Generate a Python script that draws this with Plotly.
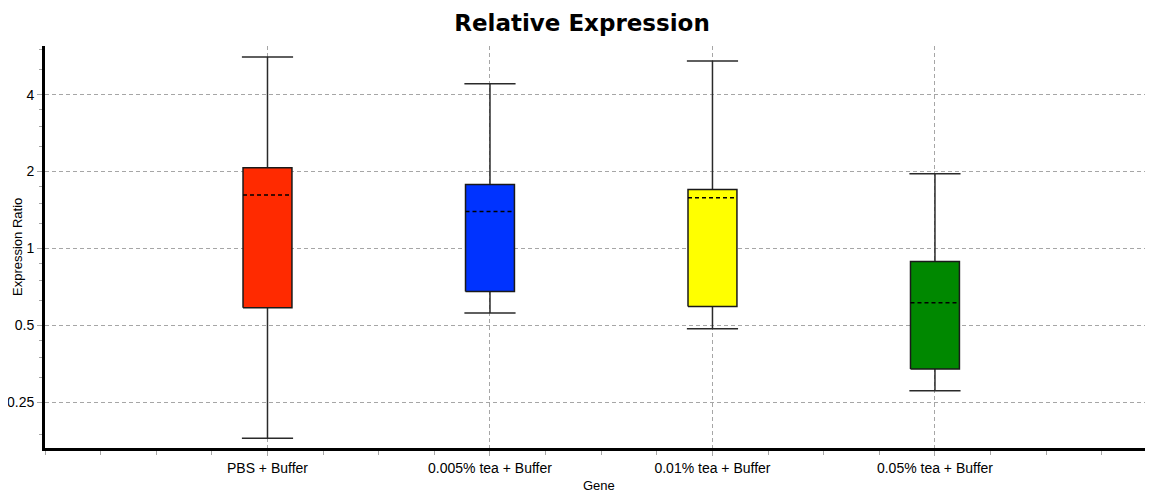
import plotly.graph_objects as go

categories = ["PBS + Buffer", "0.005% tea + Buffer", "0.01% tea + Buffer", "0.05% tea + Buffer"]
colors = ["#FF2A00", "#0033FF", "#FFFF00", "#008800"]
whisker_low = [0.181, 0.559, 0.485, 0.278]
q1 = [0.586, 0.679, 0.593, 0.338]
median = [1.62, 1.395, 1.58, 0.613]
q3 = [2.07, 1.78, 1.70, 0.889]
whisker_high = [5.62, 4.41, 5.42, 1.96]

y_ticks = [0.25, 0.5, 1, 2, 4]
y_tick_text = ["0.25", "0.5", "1", "2", "4"]
y_minor = [0.1875, 0.3125, 0.375, 0.4375, 0.625, 0.75, 0.875,
           1.25, 1.5, 1.75, 2.5, 3, 3.5, 5, 6]

BOX_HALF = 0.11
CAP_HALF = 0.115

# the page body adds an 8px offset; size the figure to fill the window
PAGE_OFFSET = 8
W, H = 1153 - PAGE_OFFSET, 493 - PAGE_OFFSET
PLOT_W, PLOT_H = 1108, 402

fig = go.Figure()
for i, cat in enumerate(categories):
    c = i + 1
    fig.add_trace(go.Scatter(
        x=[c, c, None, c, c],
        y=[whisker_low[i], q1[i], None, q3[i], whisker_high[i]],
        mode="lines", line=dict(color="#2a2a2a", width=1.5),
        hoverinfo="skip", showlegend=False))
    fig.add_trace(go.Scatter(
        x=[c - CAP_HALF, c + CAP_HALF, None, c - CAP_HALF, c + CAP_HALF],
        y=[whisker_low[i], whisker_low[i], None, whisker_high[i], whisker_high[i]],
        mode="lines", line=dict(color="#2a2a2a", width=1.5),
        hoverinfo="skip", showlegend=False))
    fig.add_trace(go.Scatter(
        x=[c - BOX_HALF, c + BOX_HALF, c + BOX_HALF, c - BOX_HALF, c - BOX_HALF],
        y=[q1[i], q1[i], q3[i], q3[i], q1[i]],
        mode="lines", fill="toself", fillcolor=colors[i],
        line=dict(color="#1a1a1a", width=1.5),
        name=cat, showlegend=False))
    fig.add_trace(go.Scatter(
        x=[c - BOX_HALF, c + BOX_HALF],
        y=[median[i], median[i]],
        mode="lines", line=dict(color="black", width=1.5, dash="4px,3px"),
        hoverinfo="skip", showlegend=False))

grid_color = "#a6a6a6"
fig.update_layout(
    width=W, height=H,
    margin=dict(l=45 - PAGE_OFFSET, r=0, t=46 - PAGE_OFFSET, b=45),
    paper_bgcolor="white", plot_bgcolor="white",
    font=dict(family="Liberation Sans, Arial, sans-serif", size=14, color="black"),
    title=dict(text="<b>Relative Expression</b>", x=(582 - PAGE_OFFSET) / W, xref="container",
               xanchor="center", y=1 - 7 / H, yref="container", yanchor="top",
               font=dict(family="DejaVu Sans, sans-serif", size=23, color="black")),
    xaxis=dict(
        range=[0, 4.98], tickmode="array", tickvals=[1, 2, 3, 4], ticktext=categories,
        showline=True, linecolor="black", linewidth=3, zeroline=False,
        showgrid=True, gridcolor=grid_color, griddash="4px,3px", gridwidth=1,
        ticks="outside", ticklen=5, tickcolor=grid_color, tickwidth=1,
        minor=dict(tickmode="linear", tick0=0, dtick=0.25, ticks="outside",
                   ticklen=4, tickcolor=grid_color, showgrid=False),
        tickfont=dict(size=14), fixedrange=True, automargin=False,
    ),
    yaxis=dict(
        type="log", range=[-0.7803, 0.7923],
        tickmode="array", tickvals=y_ticks, ticktext=y_tick_text,
        showline=True, linecolor="black", linewidth=3, zeroline=False,
        showgrid=True, gridcolor=grid_color, griddash="4px,3px", gridwidth=1,
        ticks="outside", ticklen=5, tickcolor=grid_color, tickwidth=1,
        minor=dict(tickmode="array", tickvals=y_minor, ticks="outside",
                   ticklen=3, tickcolor=grid_color, showgrid=False),
        tickfont=dict(size=14), fixedrange=True, automargin=False,
    ),
    annotations=[
        dict(text="Gene", xref="paper", yref="paper", x=0.5, y=-37 / PLOT_H,
             xanchor="center", yanchor="middle", showarrow=False,
             font=dict(size=13)),
        dict(text="Expression Ratio", xref="paper", yref="paper", x=-28 / PLOT_W,
             y=0.5, xanchor="center", yanchor="middle", textangle=-90,
             showarrow=False, font=dict(size=13)),
    ],
)

fig.write_html("out.html")
